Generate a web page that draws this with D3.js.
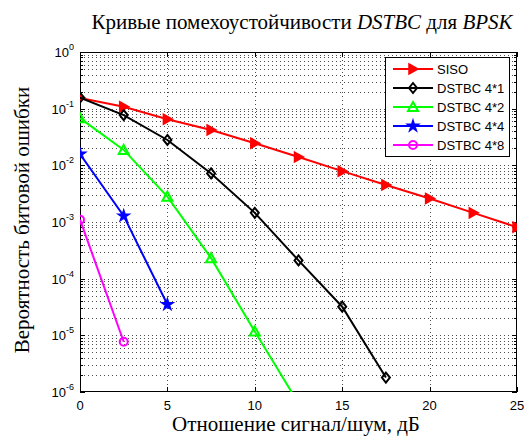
<!DOCTYPE html>
<html>
<head>
<meta charset="utf-8">
<script src="https://cdn.jsdelivr.net/npm/d3@7"></script>
<style>
  body { margin: 0; background: #fff; }
  text { font-family: "Liberation Sans", Arial, sans-serif; }
</style>
</head>
<body>
<script>
const width = 525;
const height = 437;

// data
const snr = [0, 2.5, 5, 7.5, 10, 12.5, 15, 17.5, 20, 22.5, 25];
const siso = [0.155, 0.108, 0.065, 0.042, 0.0245, 0.014, 0.0079, 0.0045, 0.0026, 0.00145, 0.00081];
const dstbc41 = [0.157, 0.077, 0.028, 0.0072, 0.00145, 0.00021, 0.000032, 0.0000018];
const dstbc42 = [0.068, 0.0187, 0.0028, 0.00023, 0.0000117, 0.00000063];
const dstbc44 = [0.0158, 0.00128, 0.000035];
const dstbc48 = [0.0011, 0.0000077];

const seriesNames = ["SISO", "DSTBC 4*1", "DSTBC 4*2", "DSTBC 4*4", "DSTBC 4*8"];
const seriesValues = [siso, dstbc41, dstbc42, dstbc44, dstbc48];
const colors = ["#ff0000", "#000000", "#00ff00", "#0000ff", "#ff00ff"];
const markers = ["right", "diamond", "up", "star", "circle"];

const xTicks = [0, 5, 10, 15, 20, 25];
const yTicks = [0, -1, -2, -3, -4, -5, -6];

const margin = { left: 80, right: 8, top: 52, bottom: 45 };
const x = d3.scaleLinear().domain([0, 25]).range([margin.left, width - margin.right]);
const y = d3.scaleLog().domain([1e-6, 1]).range([height - margin.bottom, margin.top]);

const svg = d3.select("body").append("svg")
    .attr("width", width)
    .attr("height", height);

const x0 = x.range()[0], x1 = x.range()[1], y0 = y.range()[0], y1 = y.range()[1];

svg.append("defs").append("clipPath").attr("id", "clip")
  .append("rect").attr("x", x0).attr("y", y1).attr("width", x1 - x0).attr("height", y0 - y1);

// grid
const grid = svg.append("g").attr("stroke", "#222").attr("stroke-width", 0.8)
    .attr("stroke-dasharray", "1,3").attr("shape-rendering", "crispEdges");

xTicks.slice(1, -1).forEach(t => {
  grid.append("line").attr("x1", Math.round(x(t)) + 0.5).attr("x2", Math.round(x(t)) + 0.5)
    .attr("y1", y1).attr("y2", y0);
});

const yMinor = [];
for (let e = -6; e < 0; e++) for (let m = 1; m < 10; m++) yMinor.push(m * Math.pow(10, e));
yMinor.filter(v => v > 1e-6).forEach(v => {
  grid.append("line").attr("y1", Math.round(y(v)) + 0.5).attr("y2", Math.round(y(v)) + 0.5)
    .attr("x1", x0).attr("x2", x1);
});

// axes box + inward ticks
const axes = svg.append("g").attr("stroke", "#000").attr("stroke-width", 1).attr("shape-rendering", "crispEdges");
axes.append("rect").attr("x", x0 + 0.5).attr("y", y1 + 0.5).attr("width", x1 - x0 - 1).attr("height", y0 - y1 - 1)
  .attr("fill", "none");
xTicks.forEach(t => {
  const px = Math.round(x(t)) + 0.5;
  axes.append("line").attr("x1", px).attr("x2", px).attr("y1", y0).attr("y2", y0 - 5);
  axes.append("line").attr("x1", px).attr("x2", px).attr("y1", y1).attr("y2", y1 + 5);
});
yMinor.forEach(v => {
  const py = Math.round(y(v)) + 0.5;
  const len = Math.abs(Math.log10(v) - Math.round(Math.log10(v))) < 1e-9 ? 5 : 3;
  axes.append("line").attr("y1", py).attr("y2", py).attr("x1", x0).attr("x2", x0 + len);
  axes.append("line").attr("y1", py).attr("y2", py).attr("x1", x1).attr("x2", x1 - len);
});

// tick labels
svg.append("g").selectAll("text").data(xTicks).join("text")
    .attr("x", d => x(d)).attr("y", y0 + 18)
    .attr("text-anchor", "middle").attr("font-size", 13).text(d => d);

const yl = svg.append("g").selectAll("text").data(yTicks).join("text")
    .attr("x", x0 - 6).attr("y", d => y(Math.pow(10, d)) + 5)
    .attr("text-anchor", "end").attr("font-size", 13);
yl.append("tspan").text("10");
yl.append("tspan").attr("dy", -7).attr("font-size", 9).text(d => d);

// lines
const line = d3.line().x((d, i) => x(snr[i])).y(d => y(d));
const plot = svg.append("g").attr("clip-path", "url(#clip)");

function drawMarker(g, type, color) {
  if (type === "right") {
    g.append("path").attr("d", "M-4,-5L5,0L-4,5Z").attr("fill", color).attr("stroke", color).attr("stroke-width", 1.5);
  } else if (type === "diamond") {
    g.append("path").attr("d", "M0,-5L4,0L0,5L-4,0Z").attr("fill", "none").attr("stroke", color).attr("stroke-width", 2);
  } else if (type === "up") {
    g.append("path").attr("d", "M0,-5L5,4L-5,4Z").attr("fill", "none").attr("stroke", color).attr("stroke-width", 2);
  } else if (type === "star") {
    g.append("path").attr("d", d3.symbol(d3.symbolStar, 28)()).attr("fill", color).attr("stroke", color).attr("stroke-width", 2);
  } else {
    g.append("circle").attr("r", 4).attr("fill", "none").attr("stroke", color).attr("stroke-width", 2);
  }
}

seriesValues.forEach((vals, k) => {
  plot.append("path").datum(vals).attr("d", line)
    .attr("fill", "none").attr("stroke", colors[k]).attr("stroke-width", 2);
  vals.forEach((v, i) => {
    const g = plot.append("g").attr("transform", `translate(${x(snr[i])},${y(v)})`);
    drawMarker(g, markers[k], colors[k]);
  });
});

// legend
const lg = svg.append("g");
lg.append("rect").attr("x", 385.5).attr("y", 57.5).attr("width", 124).attr("height", 99)
  .attr("fill", "#fff").attr("stroke", "#000").attr("stroke-width", 1);
seriesNames.forEach((name, k) => {
  const ly = 69 + k * 19;
  lg.append("line").attr("x1", 393).attr("x2", 433).attr("y1", ly).attr("y2", ly)
    .attr("stroke", colors[k]).attr("stroke-width", 2);
  drawMarker(lg.append("g").attr("transform", `translate(413,${ly})`), markers[k], colors[k]);
  lg.append("text").attr("x", 437).attr("y", ly + 4.5).attr("font-size", 13).text(name);
});

// title and labels
const serif = "'Liberation Serif', 'Times New Roman', serif";
const title = svg.append("text").attr("x", 302).attr("y", 29).attr("text-anchor", "middle")
    .style("font-family", serif).attr("font-size", 21);
title.append("tspan").text("Кривые помехоустойчивости ");
title.append("tspan").attr("font-style", "italic").text("DSTBC");
title.append("tspan").text(" для ");
title.append("tspan").attr("font-style", "italic").text("BPSK");

svg.append("text").attr("x", 296).attr("y", 431).attr("text-anchor", "middle")
    .style("font-family", serif).attr("font-size", 21)
    .text("Отношение сигнал/шум, дБ");

svg.append("text").attr("transform", "translate(29,220) rotate(-90)")
    .attr("text-anchor", "middle")
    .style("font-family", serif).attr("font-size", 21)
    .text("Вероятность битовой ошибки");
</script>
</body>
</html>
